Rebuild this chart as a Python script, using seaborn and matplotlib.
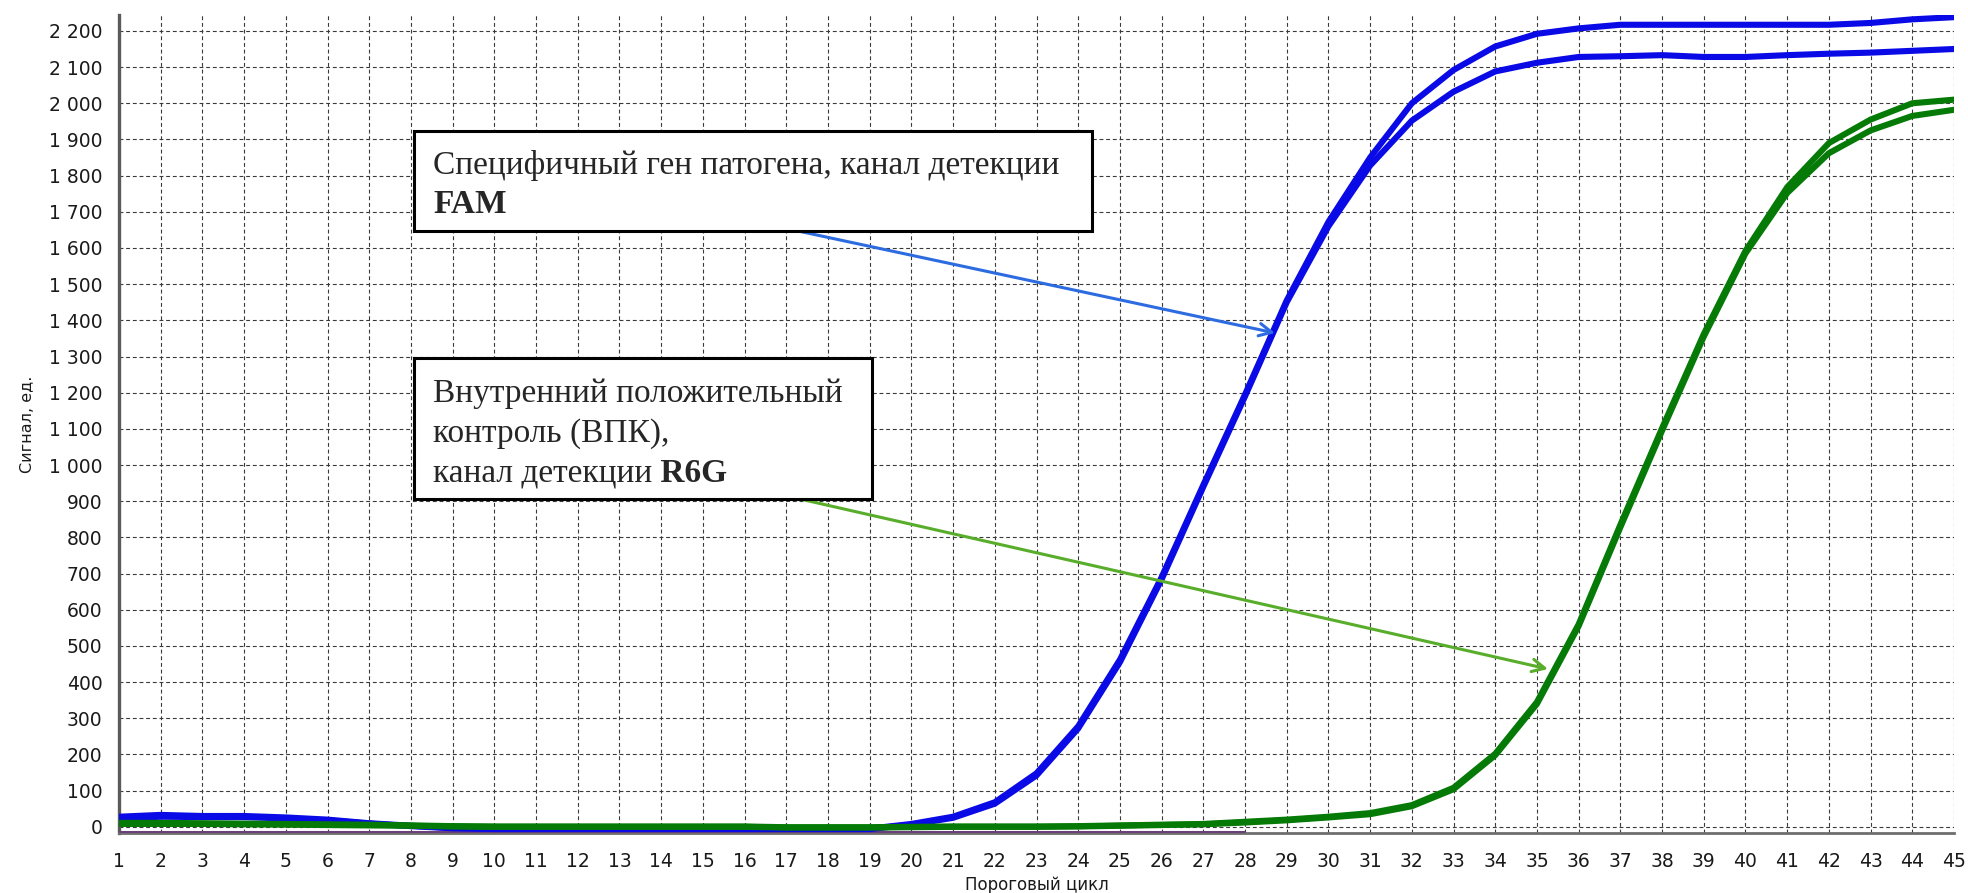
import numpy as np
import pandas as pd
import matplotlib
matplotlib.use("Agg")
import matplotlib.pyplot as plt
from matplotlib.patches import Rectangle, FancyArrowPatch
from matplotlib.text import Annotation
from matplotlib.ticker import MultipleLocator, FuncFormatter
import seaborn as sns

# ---- data: amplification curves, signal per cycle ----
cycles = list(range(1, 46))

fam_well_1 = [28, 33, 30, 30, 26, 20, 10, 3, -3, -5,
              -5, -5, -5, -5, -5, -5, -5, -5, -5, 8,
              28, 68, 148, 278, 462, 690, 945, 1195, 1455, 1672,
              1850, 2000, 2092, 2157, 2192, 2207, 2217, 2217, 2217, 2217,
              2217, 2217, 2222, 2232, 2238]
fam_well_2 = [22, 28, 27, 27, 23, 18, 9, 2, -4, -6,
              -6, -6, -6, -6, -6, -6, -6, -6, -6, 6,
              25, 64, 142, 272, 455, 684, 940, 1190, 1450, 1660,
              1828, 1952, 2032, 2088, 2112, 2128, 2130, 2133, 2128, 2128,
              2133, 2137, 2140, 2145, 2150]
r6g_well_1 = [11, 11, 10, 9, 8, 7, 6, 4, 2, 1,
              1, 1, 1, 1, 1, 1, -1, -1, -1, 0,
              1, 1, 1, 2, 4, 6, 8, 14, 20, 28,
              38, 60, 108, 202, 345, 560, 835, 1102, 1362, 1592,
              1768, 1890, 1955, 2000, 2010]
r6g_well_2 = [8, 8, 8, 7, 6, 5, 4, 3, 1, 0,
              0, 0, 0, 0, 0, 0, -2, -2, -2, -1,
              0, 0, 0, 1, 3, 5, 7, 12, 18, 26,
              35, 57, 104, 198, 340, 555, 828, 1095, 1355, 1585,
              1752, 1862, 1925, 1965, 1982]
baseline_cycles = list(range(1, 29))
baseline_signal = [-15] * 28

channel_colors = {"FAM": "#0a0ae6", "R6G": "#067a06"}

rows = []
for ch, well, vals in [("FAM", "FAM-1", fam_well_1), ("FAM", "FAM-2", fam_well_2),
                       ("R6G", "R6G-1", r6g_well_1), ("R6G", "R6G-2", r6g_well_2)]:
    for c, v in zip(cycles, vals):
        rows.append({"cycle": c, "signal": v, "channel": ch, "well": well})
df = pd.DataFrame(rows)

# ---- figure ----
W, H = 1968, 893
fig = plt.figure(figsize=(W / 100, H / 100), dpi=100)
sns.set_style("white")
plt.rcParams["font.family"] = ["DejaVu Sans"]

ax = fig.add_axes([119 / W, 1 - 833 / H, (1954 - 119) / W, (833 - 15) / H])

ax.plot(baseline_cycles, baseline_signal, color="#6b3f78", lw=2.2, zorder=3,
        solid_capstyle="butt")
sns.lineplot(data=df, x="cycle", y="signal", hue="channel", units="well",
             estimator=None, palette=channel_colors, lw=4.4, legend=False,
             ax=ax, zorder=4)

ax.set_xlim(1, 45)
ax.set_ylim(-17, 2244)
ax.xaxis.set_major_locator(MultipleLocator(1))
ax.xaxis.set_minor_locator(MultipleLocator(0.25))
ax.yaxis.set_major_locator(MultipleLocator(100))
ax.yaxis.set_minor_locator(MultipleLocator(25))
ax.yaxis.set_major_formatter(
    FuncFormatter(lambda v, p: f"{int(round(v)):,}".replace(",", " ")))

ax.grid(True, which="major", color="#3a3a3a", linestyle=(0, (3.5, 2.5)), lw=0.8)
ax.set_axisbelow(True)

for s in ["top", "right"]:
    ax.spines[s].set_visible(False)
ax.spines["left"].set_color("#5a5a5a")
ax.spines["left"].set_linewidth(2.4)
ax.spines["bottom"].set_color("#6e6e6e")
ax.spines["bottom"].set_linewidth(2.0)

ax.tick_params(axis="both", which="major", direction="out", length=7, width=1,
               color="#555555", labelsize=13.5, labelcolor="#1a1a1a", pad=5)
ax.tick_params(axis="x", which="major", pad=7)
ax.tick_params(axis="both", which="minor", direction="out", length=3.5,
               width=0.8, color="#666666")

ax.set_xlabel("Пороговый цикл", fontsize=12, color="#1a1a1a", labelpad=3)
ax.set_ylabel("Сигнал, ед.", fontsize=11.5, color="#1a1a1a", labelpad=10)


# ---- callouts ----
def fpos(x, y):
    return (x / W, 1 - y / H)


serif = ["Liberation Serif", "DejaVu Serif"]
fs = 24

# arrows from the boxes to the curves
for start, end, col in [((798, 231), (1275, 333), "#2d6be0"),
                        ((800, 499), (1548, 669), "#58ad2a")]:
    arr = FancyArrowPatch(fpos(*start), fpos(*end), transform=fig.transFigure,
                          arrowstyle="->,head_length=9,head_width=4.5",
                          color=col, lw=2.2, zorder=5, shrinkA=0, shrinkB=0)
    fig.add_artist(arr)

# boxes
for (x0, y0, x1, y1) in [(414, 131, 1092, 231), (414, 358, 872, 499)]:
    rect = Rectangle(fpos(x0, y1), (x1 - x0) / W, (y1 - y0) / H,
                     transform=fig.transFigure, facecolor="white",
                     edgecolor="black", lw=2.2, zorder=6)
    fig.add_artist(rect)


def line(x, y, txt, bold_tail=None, bold=False):
    t = fig.text(*fpos(x, y), txt, family=serif, fontsize=fs,
                 fontweight="bold" if bold else "normal",
                 ha="left", va="baseline", zorder=7)
    if bold_tail:
        a = Annotation(bold_tail, xy=(1, 0), xycoords=t, ha="left", va="bottom",
                       family=serif, fontsize=fs, fontweight="bold", zorder=7)
        fig.add_artist(a)
    return t


line(433, 174, "Специфичный ген патогена, канал детекции")
line(433, 213, "FAM", bold=True)
line(433, 402, "Внутренний положительный")
line(433, 442, "контроль (ВПК),")
line(433, 482, "канал детекции", bold_tail=" R6G")

fig.savefig("out.png", dpi=100)
